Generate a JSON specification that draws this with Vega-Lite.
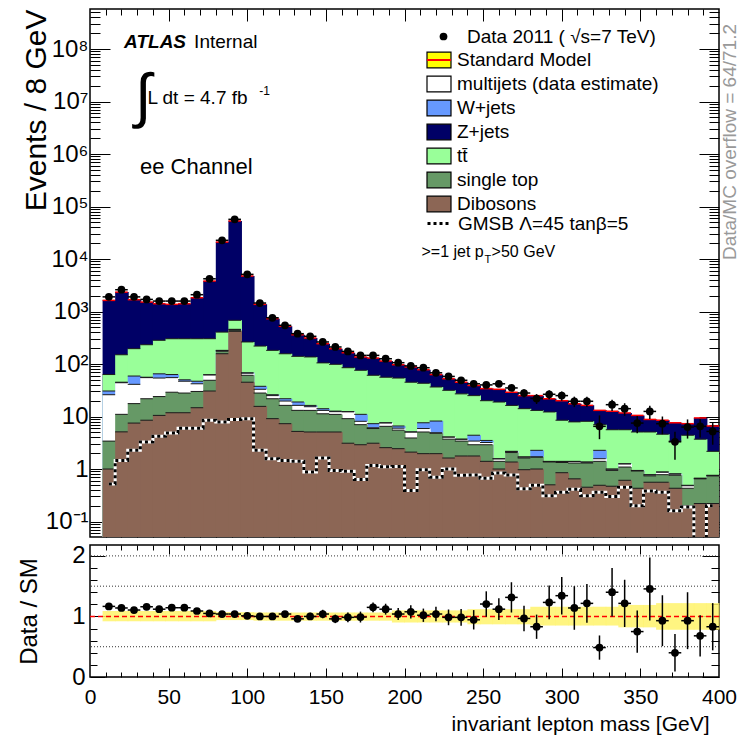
{
"$schema": "https://vega.github.io/schema/vega-lite/v6.json",
"background": "white",
"padding": {"left": 16, "top": 7, "right": 0, "bottom": 0},
"spacing": 4,
"datasets": {
"bins": [
{"lo":8,"hi":16,"m":12,"data":1900,"dib":1.0,"stop":2.4,"mj":22.6,"wj":4.6,"tt":32.4,"zj":1567,"gmsb":0.52,"r":1.166,"rlo":1.141,"rhi":1.191,"blo":0.92,"bhi":1.09},
{"lo":16,"hi":24,"m":20,"data":2600,"dib":5.1,"stop":5.9,"mj":33,"wj":1,"tt":105,"zj":2190,"gmsb":1.46,"r":1.14,"rlo":1.115,"rhi":1.165,"blo":0.92,"bhi":1.09},
{"lo":24,"hi":32,"m":28,"data":1900,"dib":7.5,"stop":10.1,"mj":23.4,"wj":18,"tt":137,"zj":1484,"gmsb":2.27,"r":1.106,"rlo":1.081,"rhi":1.131,"blo":0.92,"bhi":1.09},
{"lo":32,"hi":40,"m":36,"data":1700,"dib":8.5,"stop":13.3,"mj":33.2,"wj":1,"tt":177,"zj":1282,"gmsb":3.27,"r":1.16,"rlo":1.135,"rhi":1.185,"blo":0.92,"bhi":1.09},
{"lo":40,"hi":48,"m":44,"data":1580,"dib":10.5,"stop":13.5,"mj":30,"wj":11,"tt":218,"zj":1127,"gmsb":4.2,"r":1.12,"rlo":1.095,"rhi":1.145,"blo":0.92,"bhi":1.09},
{"lo":48,"hi":56,"m":52,"data":1580,"dib":11.8,"stop":17.2,"mj":26,"wj":8,"tt":240,"zj":1067,"gmsb":4.85,"r":1.144,"rlo":1.119,"rhi":1.169,"blo":0.92,"bhi":1.09},
{"lo":56,"hi":64,"m":60,"data":1580,"dib":11.8,"stop":16.2,"mj":19,"wj":3,"tt":253,"zj":1107,"gmsb":6.0,"r":1.144,"rlo":1.119,"rhi":1.169,"blo":0.92,"bhi":1.09},
{"lo":64,"hi":72,"m":68,"data":2090,"dib":14.7,"stop":15.3,"mj":12,"wj":5,"tt":256,"zj":1527,"gmsb":6.0,"r":1.09,"rlo":1.065,"rhi":1.115,"blo":0.92,"bhi":1.09},
{"lo":72,"hi":80,"m":76,"data":4200,"dib":30.6,"stop":18.4,"mj":13,"wj":0.5,"tt":241,"zj":3497,"gmsb":8.5,"r":1.05,"rlo":1.03,"rhi":1.07,"blo":0.92,"bhi":1.09},
{"lo":80,"hi":88,"m":84,"data":22700,"dib":157,"stop":18,"mj":5,"wj":2,"tt":223,"zj":20595,"gmsb":7.9,"r":1.04,"rlo":1.03,"rhi":1.05,"blo":0.94,"bhi":1.07},
{"lo":88,"hi":96,"m":92,"data":57000,"dib":420,"stop":20,"mj":10,"wj":8,"tt":222,"zj":52320,"gmsb":8.8,"r":1.04,"rlo":1.03,"rhi":1.05,"blo":0.94,"bhi":1.07},
{"lo":96,"hi":104,"m":100,"data":5100,"dib":45,"stop":16,"mj":6,"wj":1,"tt":195,"zj":4477,"gmsb":9.1,"r":1.01,"rlo":0.99,"rhi":1.03,"blo":0.94,"bhi":1.07},
{"lo":104,"hi":112,"m":108,"data":1450,"dib":15.6,"stop":12.4,"mj":5,"wj":4.6,"tt":182,"zj":1150,"gmsb":2.27,"r":1.0,"rlo":0.97,"rhi":1.03,"blo":0.93,"bhi":1.065},
{"lo":112,"hi":120,"m":116,"data":760,"dib":9.1,"stop":12.7,"mj":3.2,"wj":1,"tt":156,"zj":548,"gmsb":1.57,"r":1.0,"rlo":0.96,"rhi":1.04,"blo":0.93,"bhi":1.065},
{"lo":120,"hi":128,"m":124,"data":546,"dib":7.3,"stop":9,"mj":3.4,"wj":2.1,"tt":135,"zj":366,"gmsb":1.46,"r":1.04,"rlo":0.99,"rhi":1.09,"blo":0.93,"bhi":1.065},
{"lo":128,"hi":136,"m":132,"data":378,"dib":5.2,"stop":7.9,"mj":3.2,"wj":2.6,"tt":121,"zj":221,"gmsb":1.4,"r":0.96,"rlo":0.91,"rhi":1.01,"blo":0.93,"bhi":1.065},
{"lo":136,"hi":144,"m":140,"data":337,"dib":5.07,"stop":8,"mj":2.3,"wj":0.9,"tt":120,"zj":177,"gmsb":0.88,"r":1.0,"rlo":0.94,"rhi":1.06,"blo":0.93,"bhi":1.065},
{"lo":144,"hi":152,"m":148,"data":263,"dib":5.07,"stop":6.2,"mj":1.8,"wj":1,"tt":91,"zj":139,"gmsb":1.62,"r":1.04,"rlo":0.97,"rhi":1.11,"blo":0.93,"bhi":1.065},
{"lo":152,"hi":160,"m":156,"data":211,"dib":5.07,"stop":5.9,"mj":1.4,"wj":0.3,"tt":86,"zj":97,"gmsb":0.94,"r":0.96,"rlo":0.89,"rhi":1.03,"blo":0.93,"bhi":1.065},
{"lo":160,"hi":168,"m":164,"data":174,"dib":3.1,"stop":6,"mj":3.2,"wj":0.1,"tt":72.6,"zj":79,"gmsb":0.91,"r":0.985,"rlo":0.905,"rhi":1.065,"blo":0.93,"bhi":1.065},
{"lo":168,"hi":176,"m":172,"data":146,"dib":2.9,"stop":4.1,"mj":1.1,"wj":2.9,"tt":65,"zj":60,"gmsb":0.63,"r":0.99,"rlo":0.9,"rhi":1.08,"blo":0.93,"bhi":1.065},
{"lo":176,"hi":184,"m":180,"data":146,"dib":3.1,"stop":2.8,"mj":0.2,"wj":1.2,"tt":53.7,"zj":69,"gmsb":1.17,"r":1.15,"rlo":1.07,"rhi":1.23,"blo":0.93,"bhi":1.065},
{"lo":184,"hi":192,"m":188,"data":126,"dib":2.55,"stop":3.95,"mj":1.05,"wj":0.05,"tt":48.4,"zj":58,"gmsb":1.1,"r":1.12,"rlo":1.03,"rhi":1.21,"blo":0.93,"bhi":1.065},
{"lo":192,"hi":200,"m":196,"data":106,"dib":2.44,"stop":3.06,"mj":0.5,"wj":0.6,"tt":47.4,"zj":43,"gmsb":1.12,"r":1.04,"rlo":0.94,"rhi":1.14,"blo":0.9,"bhi":1.1},
{"lo":200,"hi":208,"m":204,"data":92,"dib":2.1,"stop":1.8,"mj":1.15,"wj":0.05,"tt":39.9,"zj":43,"gmsb":0.39,"r":1.077,"rlo":0.967,"rhi":1.187,"blo":0.9,"bhi":1.1},
{"lo":208,"hi":216,"m":212,"data":85,"dib":1.96,"stop":3.11,"mj":0.83,"wj":1.7,"tt":35.4,"zj":35,"gmsb":0.97,"r":1.02,"rlo":0.91,"rhi":1.13,"blo":0.9,"bhi":1.1},
{"lo":216,"hi":224,"m":220,"data":68,"dib":1.96,"stop":2.84,"mj":0.1,"wj":3.3,"tt":28.3,"zj":26.5,"gmsb":0.7,"r":1.04,"rlo":0.92,"rhi":1.16,"blo":0.9,"bhi":1.1},
{"lo":224,"hi":232,"m":228,"data":58,"dib":1.62,"stop":2.08,"mj":0.36,"wj":0.01,"tt":27.5,"zj":20.9,"gmsb":1.0,"r":0.985,"rlo":0.855,"rhi":1.115,"blo":0.9,"bhi":1.1},
{"lo":232,"hi":240,"m":236,"data":49,"dib":1.77,"stop":1.63,"mj":0.29,"wj":0.01,"tt":23.3,"zj":18,"gmsb":0.76,"r":0.985,"rlo":0.845,"rhi":1.125,"blo":0.9,"bhi":1.1},
{"lo":240,"hi":248,"m":244,"data":42,"dib":1.77,"stop":1.13,"mj":0.5,"wj":1.0,"tt":20.6,"zj":14,"gmsb":0.77,"r":0.945,"rlo":0.785,"rhi":1.105,"blo":0.87,"bhi":1.12},
{"lo":248,"hi":256,"m":252,"data":40,"dib":1.4,"stop":1.5,"mj":0.3,"wj":0.3,"tt":16.5,"zj":14,"gmsb":0.67,"r":1.205,"rlo":0.995,"rhi":1.415,"blo":0.87,"bhi":1.12},
{"lo":256,"hi":264,"m":260,"data":42,"dib":1.0,"stop":0.4,"mj":0.16,"wj":0.01,"tt":17.3,"zj":14.1,"gmsb":0.84,"r":1.12,"rlo":0.94,"rhi":1.3,"blo":0.87,"bhi":1.12},
{"lo":264,"hi":272,"m":268,"data":35,"dib":1.36,"stop":0.7,"mj":0.1,"wj":0.01,"tt":14.1,"zj":12.7,"gmsb":0.77,"r":1.315,"rlo":1.065,"rhi":1.565,"blo":0.87,"bhi":1.12},
{"lo":272,"hi":280,"m":276,"data":28,"dib":0.97,"stop":0.65,"mj":0.07,"wj":0.01,"tt":12.4,"zj":10.9,"gmsb":0.42,"r":0.967,"rlo":0.757,"rhi":1.177,"blo":0.87,"bhi":1.12,"dlo":23,"dhi":33},
{"lo":280,"hi":288,"m":284,"data":22,"dib":1.0,"stop":0.69,"mj":0.01,"wj":0.57,"tt":10.8,"zj":11.9,"gmsb":0.49,"r":0.83,"rlo":0.63,"rhi":1.03,"blo":0.85,"bhi":1.16,"dlo":17.3,"dhi":26.7},
{"lo":288,"hi":296,"m":292,"data":26.5,"dib":0.5,"stop":0.86,"mj":0.03,"wj":0.01,"tt":10.8,"zj":9.6,"gmsb":0.31,"r":1.232,"rlo":0.952,"rhi":1.512,"blo":0.85,"bhi":1.16,"dlo":21.4,"dhi":31.6},
{"lo":296,"hi":304,"m":300,"data":25,"dib":0.85,"stop":0.48,"mj":0.06,"wj":0.01,"tt":7.1,"zj":11.5,"gmsb":0.36,"r":1.343,"rlo":1.033,"rhi":1.653,"blo":0.85,"bhi":1.16,"dlo":20,"dhi":30},
{"lo":304,"hi":312,"m":308,"data":19.5,"dib":0.65,"stop":0.65,"mj":0.09,"wj":0.01,"tt":6.5,"zj":9.6,"gmsb":0.41,"r":1.14,"rlo":0.78,"rhi":1.5,"blo":0.85,"bhi":1.16,"dlo":15.1,"dhi":23.9},
{"lo":312,"hi":320,"m":316,"data":19.5,"dib":0.45,"stop":0.85,"mj":0.05,"wj":0.01,"tt":6.74,"zj":8.2,"gmsb":0.31,"r":1.216,"rlo":0.896,"rhi":1.536,"blo":0.85,"bhi":1.16,"dlo":15.1,"dhi":23.9},
{"lo":320,"hi":328,"m":324,"data":6.5,"dib":0.49,"stop":0.91,"mj":0.17,"wj":0.7,"tt":4.73,"zj":6.1,"gmsb":0.36,"r":0.486,"rlo":0.286,"rhi":0.686,"blo":0.85,"bhi":1.16,"dlo":3.7,"dhi":10.5},
{"lo":328,"hi":336,"m":332,"data":16.8,"dib":0.47,"stop":0.47,"mj":0.05,"wj":0.01,"tt":4.6,"zj":7.0,"gmsb":0.3,"r":1.4,"rlo":1.0,"rhi":1.8,"blo":0.85,"bhi":1.16,"dlo":12.7,"dhi":20.9},
{"lo":336,"hi":344,"m":340,"data":14.1,"dib":0.61,"stop":0.48,"mj":0.16,"wj":0.01,"tt":4.34,"zj":6.1,"gmsb":0.45,"r":1.216,"rlo":0.826,"rhi":1.606,"blo":0.82,"bhi":1.19,"dlo":10.3,"dhi":17.9},
{"lo":344,"hi":352,"m":348,"data":7.5,"dib":0.43,"stop":0.49,"mj":0.01,"wj":0.01,"tt":4.13,"zj":5.43,"gmsb":0.2,"r":0.75,"rlo":0.4,"rhi":1.1,"blo":0.82,"bhi":1.19,"dlo":4.8,"dhi":10.2},
{"lo":352,"hi":360,"m":356,"data":12.5,"dib":0.56,"stop":0.18,"mj":0.03,"wj":0.01,"tt":4.29,"zj":3.73,"gmsb":0.38,"r":1.455,"rlo":0.935,"rhi":1.975,"blo":0.82,"bhi":1.19,"dlo":9,"dhi":16},
{"lo":360,"hi":368,"m":364,"data":7.3,"dib":0.56,"stop":0.22,"mj":0.09,"wj":0.01,"tt":3.72,"zj":3.9,"gmsb":0.36,"r":0.93,"rlo":0.51,"rhi":1.35,"blo":0.78,"bhi":1.22,"dlo":4.6,"dhi":10},
{"lo":368,"hi":376,"m":372,"data":3.3,"dib":0.43,"stop":0.33,"mj":0.04,"wj":0.01,"tt":2.59,"zj":4.2,"gmsb":0.16,"r":0.4,"rlo":0.09,"rhi":0.71,"blo":0.78,"bhi":1.22,"dlo":1.5,"dhi":5.1},
{"lo":376,"hi":384,"m":380,"data":6.3,"dib":0.2,"stop":0.23,"mj":0.05,"wj":0.01,"tt":3.91,"zj":2.9,"gmsb":0.19,"r":0.93,"rlo":0.46,"rhi":1.4,"blo":0.78,"bhi":1.22,"dlo":3.8,"dhi":8.8},
{"lo":384,"hi":392,"m":388,"data":6.5,"dib":0.22,"stop":0.43,"mj":0.01,"wj":0.01,"tt":3.03,"zj":5.7,"gmsb":0.04,"r":0.68,"rlo":0.34,"rhi":1.02,"blo":0.78,"bhi":1.22,"dlo":4,"dhi":9},
{"lo":392,"hi":400,"m":396,"data":5.2,"dib":0.22,"stop":0.52,"mj":0.01,"wj":0.01,"tt":1.41,"zj":4.43,"gmsb":0.2,"r":0.83,"rlo":0.44,"rhi":1.22,"blo":0.78,"bhi":1.22,"dlo":2.9,"dhi":7.5}
]
},
"vconcat": [
{
"width": 629, "height": 528,
"resolve": {"axis": {"x": "independent", "y": "independent"}},
"layer": [
{
"data": {"name": "bins"},
"transform": [
{"fold": ["dib","stop","mj","wj","tt","zj"], "as": ["key","n"]},
{"lookup": "key", "from": {"data": {"values": [
{"key":"dib","k":1,"label":"Dibosons"},
{"key":"stop","k":2,"label":"single top"},
{"key":"mj","k":3,"label":"multijets (data estimate)"},
{"key":"wj","k":4,"label":"W+jets"},
{"key":"tt","k":5,"label":"tt̄"},
{"key":"zj","k":6,"label":"Z+jets"}]}, "key": "key", "fields": ["k","label"]}},
{"stack": "n", "groupby": ["lo"], "sort": [{"field": "k", "order": "ascending"}], "as": ["s0","s1"]}
],
"resolve": {"axis": {"x": "independent", "y": "independent"}},
"layer": [
{
"mark": {"type": "rect", "clip": true, "x2Offset": 1},
"encoding": {
"x": {"field": "lo", "type": "quantitative", "scale": {"domain": [0,400], "nice": false, "zero": false},
 "axis": {"orient":"bottom","values":[50,100,150,200,250,300,350],"labels":false,"domain":false,"grid":false,"title":null,"tickSize":-13,"tickColor":"black","tickWidth":1}},
"x2": {"field": "hi"},
"y": {"field": "s1", "type": "quantitative", "stack": null, "scale": {"type": "log", "domain": [0.0507, 578000000], "nice": false},
 "axis": {"orient":"left","values":[0.1,1,10,100,1000,10000,100000,1000000,10000000,100000000],"ticks":false,"domain":false,"grid":false,
  "labelExpr": "datum.value < 0.5 ? '10⁻¹' : datum.value < 5 ? '1' : datum.value < 50 ? '10' : '10' + ['', '', '²', '³', '⁴', '⁵', '⁶', '⁷', '⁸'][round(log(datum.value) / LN10)]",
  "labelFontSize": 24, "labelPadding": 2, "labelOverlap": false, "labelFlush": false,
  "title": "Events / 8 GeV", "titleFontSize": 30, "titleFontWeight": "normal", "titleAnchor": "end", "titleX": -54, "titleBaseline": "middle"}},
"y2": {"datum": 0.0507},
"fill": {"field": "label", "type": "nominal",
 "scale": {"domain": ["Standard Model","multijets (data estimate)","W+jets","Z+jets","tt̄","single top","Dibosons"],
  "range": ["#ffff00","#ffffff","#6699ff","#000066","#99ff99","#669966","#8c6655"]},
 "legend": {"orient":"none","legendX":336,"legendY":38,"title":null,"symbolType":"M-1,-0.65H1V0.65H-1Z","symbolSize":576,"symbolStrokeColor":"black","symbolStrokeWidth":1.2,"symbolOpacity":1,"labelFontSize":19,"labelOffset":5,"rowPadding":-1,"labelLimit":400}},
"order": {"field": "k", "type": "quantitative", "sort": "descending"}
}
},
{
"transform": [{"filter": "datum.k < 6"}],
"mark": {"type": "rule", "color": "#1a1a1a", "strokeWidth": 1, "clip": true},
"encoding": {
"x": {"field": "lo", "type": "quantitative", "axis": {"orient":"top","values":[50,100,150,200,250,300,350],"labels":false,"domain":false,"grid":false,"title":null,"tickSize":-12,"tickColor":"black"}},
"x2": {"field": "hi"},
"y": {"field": "s1", "type": "quantitative", "axis": {"orient":"left","values":[0.1,1,10,100,1000,10000,100000,1000000,10000000,100000000],"labels":false,"domain":false,"grid":false,"title":null,"tickSize":-20,"tickColor":"black"}}
}
},
{
"transform": [{"filter": "datum.k == 6"}],
"mark": {"type": "rule", "strokeWidth": 1.5},
"encoding": {
"x": {"field": "lo", "type": "quantitative", "axis": {"orient":"bottom","values":[10,20,30,40,60,70,80,90,110,120,130,140,160,170,180,190,210,220,230,240,260,270,280,290,310,320,330,340,360,370,380,390],"labels":false,"domain":false,"grid":false,"title":null,"tickSize":-6,"tickColor":"black"}},
"x2": {"field": "hi"},
"y": {"field": "s1", "type": "quantitative", "axis": {"orient":"right","values":[0.1,1,10,100,1000,10000,100000,1000000,10000000,100000000],"labels":false,"domain":false,"grid":false,"title":null,"tickSize":-20,"tickColor":"black"}},
"stroke": {"datum": "Standard Model", "scale": {"range": ["#ff0000"]},
 "legend": {"orient":"none","legendX":336,"legendY":38,"title":null,"symbolType":"stroke","symbolSize":576,"symbolStrokeWidth":2,"labelExpr":"''","labelFontSize":19}}
}
}
]
},
{
"data": {"name": "bins"},
"mark": {"type": "line", "interpolate": "step", "color": "white", "strokeWidth": 3, "clip": true},
"encoding": {
"x": {"field": "m", "type": "quantitative", "axis": {"orient":"top","values":[10,20,30,40,60,70,80,90,110,120,130,140,160,170,180,190,210,220,230,240,260,270,280,290,310,320,330,340,360,370,380,390],"labels":false,"domain":false,"grid":false,"title":null,"tickSize":-6,"tickColor":"black"}},
"y": {"field": "gmsb", "type": "quantitative", "axis": {"orient":"left","values":[0.06,0.07,0.08,0.09,0.2,0.3,0.4,0.5,0.6,0.7,0.8,0.9,2,3,4,5,6,7,8,9,20,30,40,50,60,70,80,90,200,300,400,500,600,700,800,900,2000,3000,4000,5000,6000,7000,8000,9000,20000,30000,40000,50000,60000,70000,80000,90000,200000,300000,400000,500000,600000,700000,800000,900000,2000000,3000000,4000000,5000000,6000000,7000000,8000000,9000000,20000000,30000000,40000000,50000000,60000000,70000000,80000000,90000000,200000000,300000000,400000000,500000000],"labels":false,"domain":false,"grid":false,"title":null,"tickSize":-10,"tickColor":"black"}}
}
},
{
"data": {"name": "bins"},
"mark": {"type": "line", "interpolate": "step", "color": "black", "strokeWidth": 3, "clip": true},
"encoding": {
"x": {"field": "m", "type": "quantitative", "axis": null},
"y": {"field": "gmsb", "type": "quantitative", "axis": {"orient":"right","values":[0.06,0.07,0.08,0.09,0.2,0.3,0.4,0.5,0.6,0.7,0.8,0.9,2,3,4,5,6,7,8,9,20,30,40,50,60,70,80,90,200,300,400,500,600,700,800,900,2000,3000,4000,5000,6000,7000,8000,9000,20000,30000,40000,50000,60000,70000,80000,90000,200000,300000,400000,500000,600000,700000,800000,900000,2000000,3000000,4000000,5000000,6000000,7000000,8000000,9000000,20000000,30000000,40000000,50000000,60000000,70000000,80000000,90000000,200000000,300000000,400000000,500000000],"labels":false,"domain":false,"grid":false,"title":null,"tickSize":-10,"tickColor":"black"}},
"strokeDash": {"datum": "GMSB  Λ=45 tanβ=5", "scale": {"range": [[3,3]]},
 "legend": {"orient":"none","legendX":336,"legendY":201,"title":null,"symbolType":"stroke","symbolSize":576,"symbolStrokeWidth":3,"symbolStrokeColor":"black","labelFontSize":19,"labelOffset":5,"labelLimit":400}}
}
},
{
"data": {"name": "bins"},
"mark": {"type": "rule", "color": "black", "strokeWidth": 1.5},
"encoding": {
"x": {"field": "lo", "type": "quantitative", "axis": null},
"x2": {"field": "hi"},
"y": {"field": "data", "type": "quantitative", "axis": null}
}
},
{
"data": {"name": "bins"},
"mark": {"type": "rule", "color": "black", "strokeWidth": 1.5},
"encoding": {
"x": {"field": "m", "type": "quantitative", "axis": null},
"y": {"field": "dlo", "type": "quantitative", "axis": null},
"y2": {"field": "dhi"}
}
},
{
"data": {"name": "bins"},
"mark": {"type": "point", "filled": true, "color": "black", "size": 60, "opacity": 1},
"encoding": {
"x": {"field": "m", "type": "quantitative", "axis": null},
"y": {"field": "data", "type": "quantitative", "axis": null},
"shape": {"datum": "Data 2011 ( √s=7 TeV)", "scale": {"range": ["circle"]},
 "legend": {"orient":"none","legendX":344,"legendY":18,"title":null,"symbolFillColor":"black","symbolStrokeColor":"black","symbolSize":60,"labelFontSize":19,"labelOffset":14,"labelLimit":400}}
}
},
{
"data": {"values": [{}]},
"mark": {"type": "text", "align": "left", "baseline": "middle", "fontSize": 19, "fontWeight": "bold", "fontStyle": "italic"},
"encoding": {"x": {"datum": 21.7, "type": "quantitative", "axis": null}, "y": {"datum": 135000000, "type": "quantitative", "axis": null}, "text": {"value": "ATLAS"}}
},
{
"data": {"values": [{}]},
"mark": {"type": "text", "align": "left", "baseline": "middle", "fontSize": 19},
"encoding": {"x": {"datum": 66.2, "type": "quantitative", "axis": null}, "y": {"datum": 135000000, "type": "quantitative", "axis": null}, "text": {"value": "Internal"}}
},
{
"data": {"values": [{}]},
"mark": {"type": "text", "align": "center", "baseline": "middle", "fontSize": 60},
"encoding": {"x": {"datum": 33.8, "type": "quantitative", "axis": null}, "y": {"datum": 11700000, "type": "quantitative", "axis": null}, "text": {"value": "∫"}}
},
{
"data": {"values": [{}]},
"mark": {"type": "text", "align": "left", "baseline": "middle", "fontSize": 19},
"encoding": {"x": {"datum": 36.5, "type": "quantitative", "axis": null}, "y": {"datum": 11700000, "type": "quantitative", "axis": null}, "text": {"value": "L dt = 4.7 fb"}}
},
{
"data": {"values": [{}]},
"mark": {"type": "text", "align": "left", "baseline": "middle", "fontSize": 12},
"encoding": {"x": {"datum": 107.6, "type": "quantitative", "axis": null}, "y": {"datum": 15800000, "type": "quantitative", "axis": null}, "text": {"value": "-1"}}
},
{
"data": {"values": [{}]},
"mark": {"type": "text", "align": "left", "baseline": "middle", "fontSize": 22},
"encoding": {"x": {"datum": 31.8, "type": "quantitative", "axis": null}, "y": {"datum": 560000, "type": "quantitative", "axis": null}, "text": {"value": "ee Channel"}}
},
{
"data": {"values": [{}]},
"mark": {"type": "text", "align": "left", "baseline": "middle", "fontSize": 16},
"encoding": {"x": {"datum": 210.8, "type": "quantitative", "axis": null}, "y": {"datum": 13600, "type": "quantitative", "axis": null}, "text": {"value": ">=1 jet p"}}
},
{
"data": {"values": [{}]},
"mark": {"type": "text", "align": "left", "baseline": "middle", "fontSize": 11},
"encoding": {"x": {"datum": 250.8, "type": "quantitative", "axis": null}, "y": {"datum": 9700, "type": "quantitative", "axis": null}, "text": {"value": "T"}}
},
{
"data": {"values": [{}]},
"mark": {"type": "text", "align": "left", "baseline": "middle", "fontSize": 16},
"encoding": {"x": {"datum": 255.4, "type": "quantitative", "axis": null}, "y": {"datum": 13600, "type": "quantitative", "axis": null}, "text": {"value": ">50 GeV"}}
},
{
"data": {"values": [{}]},
"mark": {"type": "text", "align": "center", "baseline": "middle", "fontSize": 19, "angle": 270, "color": "#999999"},
"encoding": {"x": {"datum": 407, "type": "quantitative", "axis": null}, "y": {"datum": 1690000, "type": "quantitative", "axis": null}, "text": {"value": "Data/MC overflow = 64/71.2"}}
}
]
},
{
"width": 629, "height": 132,
"resolve": {"axis": {"x": "independent", "y": "independent"}},
"layer": [
{
"data": {"name": "bins"},
"mark": {"type": "rect", "color": "#fff36b", "opacity": 0.85, "x2Offset": 0.5},
"encoding": {
"x": {"field": "lo", "type": "quantitative", "scale": {"domain": [0,400], "nice": false, "zero": false},
 "axis": {"orient":"bottom","values":[0,50,100,150,200,250,300,350,400],"ticks":false,"domain":false,"grid":false,"labelFontSize":21,"labelPadding":9,"labelFlush":false,"labelOverlap":false,
  "title":"invariant lepton mass [GeV]","titleFontSize":21,"titleFontWeight":"normal","titleAnchor":"end","titleX":619,"titleY":53,"titleBaseline":"alphabetic","titleAlign":"right"}},
"x2": {"field": "hi"},
"y": {"field": "blo", "type": "quantitative", "scale": {"domain": [0, 2.18], "nice": false, "zero": false},
 "axis": {"orient":"left","values":[0,1,2],"ticks":false,"domain":false,"grid":false,"labelFontSize":24,"labelPadding":5,"labelFlush":false,"labelOverlap":false,
  "title":"Data / SM","titleFontSize":24,"titleFontWeight":"normal","titleX":-61,"titleBaseline":"middle"}},
"y2": {"field": "bhi"}
}
},
{
"data": {"values": [{"g":0.5},{"g":1.5},{"g":2}]},
"mark": {"type": "rule", "color": "#333333", "strokeDash": [1,2], "strokeWidth": 1},
"encoding": {
"y": {"field": "g", "type": "quantitative", "axis": {"orient":"left","values":[0,1,2],"labels":false,"domain":false,"grid":false,"title":null,"tickSize":-15,"tickColor":"black"}}
}
},
{
"data": {"values": [{}]},
"mark": {"type": "rule", "color": "#ff0000", "strokeDash": [5,3], "strokeWidth": 1.5},
"encoding": {
"x": {"datum": 0, "type": "quantitative", "axis": {"orient":"top","values":[10,20,30,40,60,70,80,90,110,120,130,140,160,170,180,190,210,220,230,240,260,270,280,290,310,320,330,340,360,370,380,390],"labels":false,"domain":false,"grid":false,"title":null,"tickSize":-5,"tickColor":"black"}},
"x2": {"datum": 400},
"y": {"datum": 1, "type": "quantitative", "axis": {"orient":"left","values":[0.2,0.4,0.6,0.8,1.2,1.4,1.6,1.8],"labels":false,"domain":false,"grid":false,"title":null,"tickSize":-7,"tickColor":"black"}}
}
},
{
"data": {"name": "bins"},
"mark": {"type": "rule", "color": "black", "strokeWidth": 1.5},
"encoding": {
"x": {"field": "m", "type": "quantitative", "axis": {"orient":"bottom","values":[50,100,150,200,250,300,350],"labels":false,"domain":false,"grid":false,"title":null,"tickSize":-9,"tickColor":"black"}},
"y": {"field": "rlo", "type": "quantitative", "axis": {"orient":"right","values":[0,1,2],"labels":false,"domain":false,"grid":false,"title":null,"tickSize":-17,"tickColor":"black"}},
"y2": {"field": "rhi"}
}
},
{
"data": {"name": "bins"},
"mark": {"type": "rule", "color": "black", "strokeWidth": 1.5},
"encoding": {
"x": {"field": "lo", "type": "quantitative", "axis": {"orient":"bottom","values":[10,20,30,40,60,70,80,90,110,120,130,140,160,170,180,190,210,220,230,240,260,270,280,290,310,320,330,340,360,370,380,390],"labels":false,"domain":false,"grid":false,"title":null,"tickSize":-5,"tickColor":"black"}},
"x2": {"field": "hi"},
"y": {"field": "r", "type": "quantitative", "axis": {"orient":"right","values":[0.2,0.4,0.6,0.8,1.2,1.4,1.6,1.8],"labels":false,"domain":false,"grid":false,"title":null,"tickSize":-8,"tickColor":"black"}}
}
},
{
"data": {"name": "bins"},
"mark": {"type": "point", "filled": true, "color": "black", "size": 60, "opacity": 1},
"encoding": {
"x": {"field": "m", "type": "quantitative", "axis": {"orient":"top","values":[50,100,150,200,250,300,350],"labels":false,"domain":false,"grid":false,"title":null,"tickSize":-9,"tickColor":"black"}},
"y": {"field": "r", "type": "quantitative", "axis": null}
}
}
]
}
],
"config": {
"font": "Liberation Sans",
"view": {"stroke": "black", "strokeWidth": 1.5},
"axis": {"labelFont": "Liberation Sans", "titleFont": "Liberation Sans", "labelColor": "black", "titleColor": "black", "tickColor": "black"},
"legend": {"labelFont": "Liberation Sans", "labelColor": "black"},
"text": {"font": "Liberation Sans", "color": "black"}
}
}
